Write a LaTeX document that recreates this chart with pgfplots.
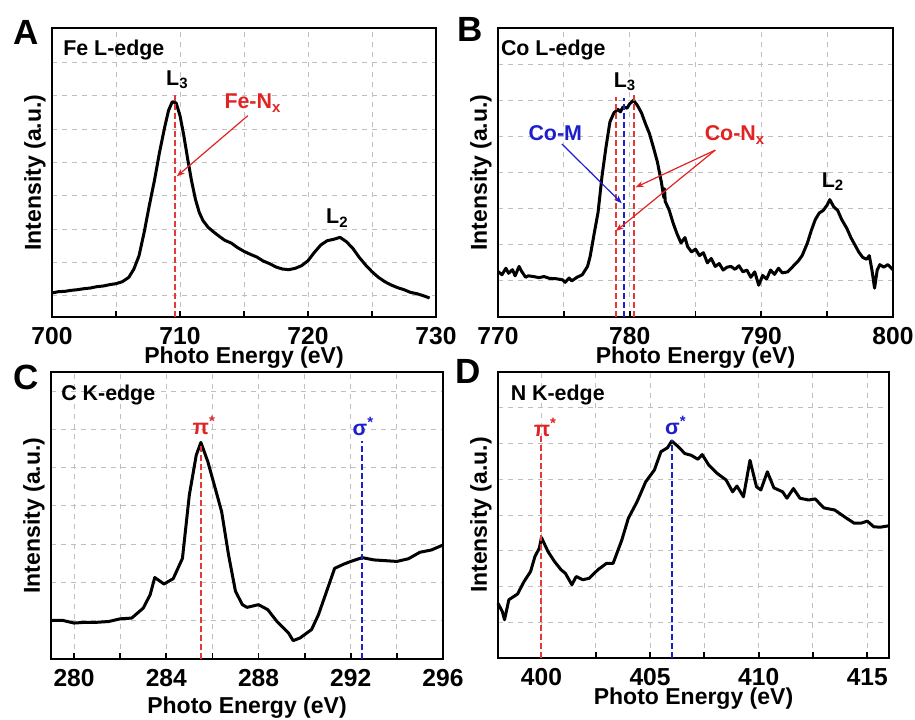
\documentclass[border=0pt]{standalone}
\usepackage{fontspec}
\setmainfont{Liberation Sans}
\usepackage{pgfplots}
\pgfplotsset{compat=1.18}
\usetikzlibrary{arrows.meta}
\definecolor{cred}{RGB}{225,35,35}
\definecolor{cblue}{RGB}{30,30,205}
\tikzset{txt/.style={font=\fontsize{10.7}{12}\selectfont\bfseries}}
\pgfplotsset{
  panel/.style={
    scale only axis,
    clip=false,
    axis line style={line width=1.4pt},
    xtick pos=left,
    tick align=inside,
    major tick length=3pt,
    minor tick length=3pt,
    major tick style={line width=0.9pt,black},
    minor tick style={line width=0.9pt,black},
    minor x tick num=1,
    ytick style={draw=none},
    yticklabels={},
    xmajorgrids, xminorgrids, ymajorgrids,
    major grid style={gray!50, line width=0.5pt, dash pattern=on 2.5pt off 2.5pt},
    minor grid style={gray!50, line width=0.5pt, dash pattern=on 2.5pt off 2.5pt},
    xticklabel style={font=\fontsize{12.3}{14}\selectfont\bfseries, inner sep=0pt, anchor=north, yshift=-5pt},
    xlabel style={font=\fontsize{11.5}{13}\selectfont\bfseries},
    ylabel style={font=\fontsize{11.5}{13}\selectfont\bfseries},
    xlabel={Photo Energy (eV)},
    ylabel={Intensity (a.u.)},
    ylabel style={at={(rel axis cs:0,0.5)}, anchor=south, inner sep=0pt, yshift=3pt},
    every axis plot/.append style={line join=round},
  },
  curve/.style={black, line width=1.5pt},
  rdash/.style={cred!90, line width=1pt, dash pattern=on 3pt off 1.5pt},
  bdash/.style={cblue, line width=1pt, dash pattern=on 3pt off 1.5pt},
}
\begin{document}
\begin{tikzpicture}
\path[use as bounding box] (0,0) rectangle (457.5pt,-359.5pt);
% ---------- A ----------
\begin{axis}[panel, at={(26pt,-158.5pt)}, anchor=south west,
  width=192pt, height=144.5pt,
  xmin=700, xmax=730, ymin=0.36, ymax=9.03,
  xtick={700,710,720,730}, xticklabels={700,710,720,730}, ytick={1,...,8},
  xlabel style={at={(rel axis cs:0.5,0)}, anchor=center, yshift=-20.5pt}]
\addplot[curve] coordinates {
(700.0,1.08)(700.5,1.12)(701,1.13)(701.5,1.16)(702,1.18)(702.5,1.21)(703,1.23)(703.5,1.27)(704,1.29)(704.5,1.33)(705,1.36)(705.5,1.42)(706,1.55)(706.4,1.80)(706.8,2.20)(707.2,2.90)(707.6,3.70)(708,4.45)(708.4,5.30)(708.8,6.05)(709.1,6.55)(709.4,6.82)(709.7,6.78)(710.0,6.40)(710.3,5.80)(710.6,5.10)(710.9,4.45)(711.2,3.90)(711.5,3.50)(711.8,3.25)(712.2,3.05)(712.6,2.92)(713,2.80)(713.5,2.66)(714,2.58)(714.5,2.44)(715,2.33)(715.5,2.24)(716,2.16)(716.5,2.04)(717,1.96)(717.5,1.86)(718,1.80)(718.5,1.78)(719,1.82)(719.5,1.90)(720,2.05)(720.5,2.30)(721,2.52)(721.5,2.65)(722,2.69)(722.5,2.75)(723,2.62)(723.5,2.42)(724,2.15)(724.5,1.92)(725,1.72)(725.5,1.55)(726,1.42)(726.5,1.32)(727,1.24)(727.5,1.18)(728,1.10)(728.5,1.06)(729,1.00)(729.5,0.93)};
\addplot[rdash] coordinates {(709.6,0.36)(709.6,7.05)};
\draw[cred, line width=0.6pt, -{Stealth[length=4pt,width=3pt]}] (axis cs:715.3,6.40) -- (axis cs:709.75,4.58);
\node[txt] at (axis cs:709.8,7.48) {L\textsubscript{3}};
\node[txt, text=cred] at (axis cs:715.7,6.78) {Fe-N\textsubscript{x}};
\node[txt] at (axis cs:722.3,3.33) {L\textsubscript{2}};
\node[txt, anchor=west, inner sep=0pt] at (axis cs:700.85,8.38) {Fe L-edge};
\end{axis}
% ---------- B ----------
\begin{axis}[panel, at={(249pt,-158.5pt)}, anchor=south west,
  width=197.5pt, height=144.5pt,
  xmin=770, xmax=800, ymin=0, ymax=8,
  xtick={770,780,790,800}, xticklabels={770,780,790,800}, ytick={1,...,7},
  xlabel style={at={(rel axis cs:0.5,0)}, anchor=center, yshift=-20.5pt}]
\addplot[curve] coordinates {
(770.0,1.26)(770.3,1.17)(770.6,1.35)(770.8,1.21)(771.1,1.31)(771.3,1.14)(771.6,1.40)(771.8,1.26)(772.1,1.10)(772.3,1.14)(772.7,1.12)(773.1,1.09)(773.5,1.12)(773.9,1.07)(774.4,1.06)(774.9,1.03)(775.1,0.96)(775.4,1.08)(775.6,1.00)(776.0,1.10)(776.4,1.17)(776.8,1.40)(777.0,1.68)(777.3,2.30)(777.6,2.90)(777.9,3.90)(778.2,4.70)(778.5,5.40)(778.8,5.65)(779.1,5.75)(779.3,5.68)(779.5,5.82)(779.8,5.78)(780.0,5.90)(780.3,6.00)(780.6,5.85)(780.9,5.65)(781.2,5.35)(781.5,5.08)(781.8,4.70)(782.1,4.30)(782.4,3.75)(782.6,3.30)(782.65,3.55)(782.7,3.20)(783.0,2.96)(783.3,2.60)(783.6,2.30)(783.9,2.05)(784.2,2.20)(784.4,1.95)(784.7,1.80)(785.0,1.88)(785.3,1.70)(785.6,1.78)(785.9,1.50)(786.2,1.62)(786.5,1.40)(786.8,1.48)(787.1,1.30)(787.4,1.38)(787.7,1.40)(788.0,1.32)(788.3,1.42)(788.6,1.25)(788.9,1.30)(789.2,1.10)(789.5,1.25)(789.8,0.88)(790.1,1.15)(790.4,1.05)(790.7,1.30)(791.0,1.18)(791.3,1.35)(791.6,1.22)(792.0,1.25)(792.4,1.40)(792.8,1.55)(793.1,1.70)(793.5,2.05)(793.8,2.40)(794.1,2.70)(794.4,2.88)(794.7,2.95)(795.0,3.10)(795.2,3.25)(795.5,3.05)(795.8,2.95)(796.1,2.70)(796.5,2.45)(796.8,2.20)(797.1,2.00)(797.4,1.80)(797.7,1.65)(798.0,1.60)(798.2,1.70)(798.4,1.30)(798.6,0.80)(798.8,1.30)(799.0,1.45)(799.3,1.38)(799.6,1.45)(800.0,1.31)};
\addplot[rdash] coordinates {(778.95,0)(778.95,6.1)};
\addplot[bdash] coordinates {(779.55,0)(779.55,6.05)};
\addplot[rdash] coordinates {(780.3,0)(780.3,6.15)};
\draw[cblue, line width=0.6pt, -{Stealth[length=4pt,width=3pt]}] (axis cs:774.85,4.79) -- (axis cs:779.4,3.15);
\draw[cred, line width=0.6pt, -{Stealth[length=4pt,width=3pt]}] (axis cs:786.5,4.62) -- (axis cs:780.45,3.59);
\draw[cred, line width=0.6pt, -{Stealth[length=4pt,width=3pt]}] (axis cs:786.5,4.62) -- (axis cs:778.95,2.38);
\node[txt] at (axis cs:779.65,6.51) {L\textsubscript{3}};
\node[txt] at (axis cs:795.45,3.75) {L\textsubscript{2}};
\node[txt, text=cblue] at (axis cs:774.35,5.08) {Co-M};
\node[txt, text=cred] at (axis cs:788.0,5.04) {Co-N\textsubscript{x}};
\node[txt, anchor=west, inner sep=0pt] at (axis cs:770.2,7.38) {Co L-edge};
\end{axis}
% ---------- C ----------
\begin{axis}[panel, at={(25.5pt,-329.5pt)}, anchor=south west,
  width=196pt, height=143.5pt,
  xmin=279, xmax=296, ymin=0, ymax=7.5,
  xtick={280,284,288,292,296}, xticklabels={280,284,288,292,296}, ytick={1,...,7},
  xlabel style={at={(rel axis cs:0.5,0)}, anchor=center, yshift=-24.5pt}]
\addplot[curve] coordinates {
(279,1.01)(279.5,1.01)(280,0.94)(280.5,0.96)(281,0.96)(281.5,0.98)(282,1.05)(282.5,1.07)(283,1.33)(283.3,1.68)(283.5,2.13)(283.9,1.96)(284.3,2.10)(284.7,2.63)(285,4.29)(285.3,5.33)(285.5,5.66)(285.8,5.16)(286.2,4.29)(286.4,3.85)(286.7,2.72)(287,1.77)(287.3,1.42)(287.5,1.35)(288,1.42)(288.4,1.29)(288.8,0.98)(289.3,0.68)(289.5,0.48)(289.8,0.55)(290.3,0.77)(290.6,1.16)(291,1.85)(291.3,2.37)(291.7,2.48)(292,2.55)(292.5,2.65)(293,2.59)(294,2.55)(294.5,2.62)(295,2.79)(295.5,2.85)(296,2.98)};
\addplot[rdash] coordinates {(285.5,0)(285.5,5.6)};
\addplot[bdash] coordinates {(292.5,0)(292.5,5.7)};
\node[txt, text=cred] at (axis cs:285.65,6.11) {π\textsuperscript{*}};
\node[txt, text=cblue] at (axis cs:292.55,6.07) {σ\textsuperscript{*}};
\node[txt, anchor=west, inner sep=0pt] at (axis cs:279.43,6.91) {C K-edge};
\end{axis}
% ---------- D ----------
\begin{axis}[panel, at={(249pt,-329pt)}, anchor=south west,
  width=195.5pt, height=143pt,
  xmin=398, xmax=416, ymin=0, ymax=8,
  xtick={400,405,410,415}, xticklabels={400,405,410,415}, ytick={1,...,7},
  xlabel style={at={(rel axis cs:0.5,0)}, anchor=center, yshift=-20.5pt}]
\addplot[curve] coordinates {
(398,1.53)(398.2,1.30)(398.3,1.07)(398.5,1.63)(398.9,1.79)(399.2,2.14)(399.5,2.42)(399.7,2.84)(399.9,3.07)(400,3.37)(400.3,2.98)(400.6,2.70)(400.9,2.47)(401.1,2.37)(401.4,2.05)(401.6,2.28)(401.9,2.19)(402.2,2.23)(402.6,2.47)(403,2.65)(403.3,2.65)(403.7,3.30)(404,3.91)(404.4,4.37)(404.8,4.93)(405.2,5.26)(405.5,5.77)(405.8,5.88)(406,6.07)(406.3,5.91)(406.6,5.72)(406.9,5.67)(407.2,5.56)(407.4,5.69)(407.7,5.40)(408.1,5.16)(408.5,4.98)(408.8,4.65)(409.0,4.81)(409.3,4.51)(409.6,5.53)(409.9,4.79)(410.1,4.70)(410.4,5.21)(410.7,4.76)(411.1,4.65)(411.3,4.47)(411.6,4.74)(411.9,4.47)(412.3,4.42)(412.6,4.45)(413,4.20)(413.5,4.14)(414,3.93)(414.4,3.77)(414.7,3.77)(415,3.83)(415.3,3.67)(415.6,3.66)(416,3.70)};
\addplot[rdash] coordinates {(400,0)(400,6.2)};
\addplot[bdash] coordinates {(406,0)(406,6.1)};
\node[txt, text=cred] at (axis cs:400.18,6.44) {π\textsuperscript{*}};
\node[txt, text=cblue] at (axis cs:406.19,6.51) {σ\textsuperscript{*}};
\node[txt, anchor=west, inner sep=0pt] at (axis cs:398.57,7.37) {N K-edge};
\end{axis}
% panel letters
\node[font=\fontsize{17.5}{20}\selectfont\bfseries] at (13pt,-16pt) {A};
\node[font=\fontsize{17.5}{20}\selectfont\bfseries] at (235pt,-14.5pt) {B};
\node[font=\fontsize{17.5}{20}\selectfont\bfseries] at (13pt,-188.5pt) {C};
\node[font=\fontsize{17.5}{20}\selectfont\bfseries] at (234pt,-185.5pt) {D};
\end{tikzpicture}
\end{document}
